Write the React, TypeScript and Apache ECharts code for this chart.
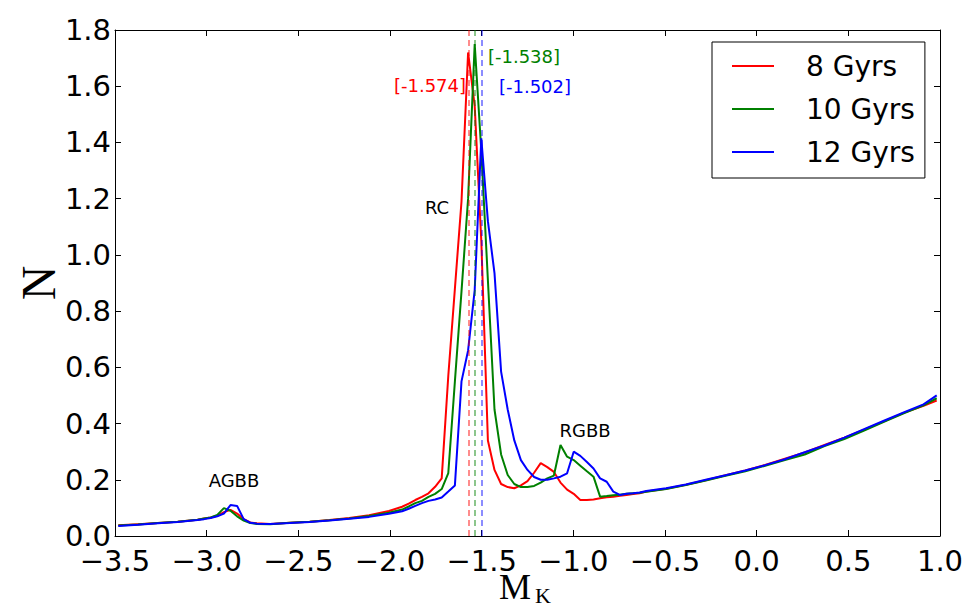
import React, { useEffect, useRef } from "react";
import * as echarts from "echarts";

// Bin centres (M_K) at which the three luminosity functions are sampled
const binCenters = [
  -3.482, -3.374, -3.266, -3.158, -3.05,
  -3.014, -2.978, -2.942, -2.906, -2.87, -2.834, -2.798, -2.762, -2.726,
  -2.654, -2.546, -2.438, -2.33, -2.222, -2.114, -2.006, -1.934, -1.898,
  -1.862, -1.826, -1.79, -1.754, -1.718, -1.682, -1.646, -1.61, -1.574, -1.538,
  -1.502, -1.466, -1.43, -1.394, -1.358, -1.322, -1.286, -1.25, -1.214, -1.178,
  -1.142, -1.106, -1.07, -1.034, -0.998, -0.962, -0.926, -0.89, -0.854, -0.818,
  -0.782, -0.746, -0.71, -0.674, -0.638, -0.602,
  -0.494, -0.386, -0.278, -0.17, -0.062, 0.046, 0.154, 0.262, 0.37, 0.478,
  0.586, 0.694, 0.802, 0.91, 0.982,
];

const gyr8 = [
  0.038, 0.042, 0.046, 0.051, 0.058,
  0.062, 0.066, 0.072, 0.085, 0.093, 0.08, 0.06, 0.048, 0.045,
  0.043, 0.047, 0.051, 0.057, 0.064, 0.074, 0.089, 0.104, 0.115,
  0.128, 0.139, 0.152, 0.175, 0.205, 0.57, 0.88, 1.19, 1.72, 1.53,
  1.05, 0.34, 0.235, 0.185, 0.174, 0.17, 0.18, 0.195, 0.225, 0.259,
  0.245, 0.228, 0.19, 0.165, 0.15, 0.128, 0.128, 0.13, 0.134, 0.138,
  0.14, 0.143, 0.146, 0.149, 0.152, 0.158,
  0.168, 0.182, 0.198, 0.216, 0.233, 0.253, 0.275, 0.297, 0.324, 0.35,
  0.378, 0.408, 0.438, 0.463, 0.482,
];

const gyr10 = [
  0.037, 0.041, 0.046, 0.051, 0.058,
  0.062, 0.066, 0.075, 0.099, 0.09, 0.07, 0.055, 0.046, 0.043,
  0.042, 0.047, 0.051, 0.056, 0.062, 0.071, 0.083, 0.094, 0.105,
  0.117, 0.125, 0.139, 0.15, 0.167, 0.224, 0.55, 0.87, 1.2, 1.75,
  1.37, 0.91, 0.45, 0.29, 0.217, 0.185, 0.174, 0.174, 0.178, 0.19,
  0.205, 0.215, 0.324, 0.282, 0.27, 0.25, 0.23, 0.211, 0.14, 0.142,
  0.145, 0.147, 0.15, 0.152, 0.154, 0.157,
  0.167, 0.181, 0.197, 0.214, 0.23, 0.25, 0.27, 0.29, 0.32, 0.345,
  0.375, 0.406, 0.436, 0.465, 0.49,
];

const gyr12 = [
  0.036, 0.04, 0.045, 0.05, 0.057,
  0.06, 0.064, 0.07, 0.08, 0.11, 0.107, 0.06, 0.047, 0.044,
  0.043, 0.046, 0.05, 0.055, 0.061, 0.068, 0.079, 0.088, 0.097,
  0.107, 0.117, 0.125, 0.13, 0.137, 0.158, 0.18, 0.55, 0.66, 0.875,
  1.415, 1.12, 0.935, 0.585, 0.45, 0.34, 0.27, 0.235, 0.21, 0.2,
  0.2, 0.205, 0.211, 0.223, 0.3, 0.285, 0.263, 0.24, 0.205, 0.193,
  0.158, 0.146, 0.15, 0.152, 0.155, 0.16,
  0.17, 0.183, 0.2, 0.216, 0.233, 0.252, 0.273, 0.298, 0.322, 0.35,
  0.38, 0.41, 0.44, 0.468, 0.5,
];

const seriesNames = ["8 Gyrs", "10 Gyrs", "12 Gyrs"];
const seriesValues = [gyr8, gyr10, gyr12];
const seriesColors = ["#ff0000", "#008000", "#0000ff"];
const peakPositions = [-1.574, -1.538, -1.502];

const xMin = -3.5;
const xMax = 1.0;
const xStep = 0.5;
const yMin = 0;
const yMax = 1.8;
const yStep = 0.2;

const fmt = (v: number) => v.toFixed(1).replace("-", "\u2212");

export default function App() {
  const ref = useRef<HTMLDivElement>(null);
  useEffect(() => {
    if (!ref.current) return;
    const chart = echarts.init(ref.current, null, { renderer: "svg" });
    const tickFont = { fontFamily: "DejaVu Sans", fontSize: 29, color: "#000" };
    const axisCommon = {
      axisLine: { show: true, onZero: false, lineStyle: { color: "#000", width: 1 } },
      axisTick: { show: true, inside: true, length: 6, lineStyle: { color: "#000" } },
      splitLine: { show: false },
    };
    const series: any[] = seriesNames.map((name, i) => ({
      name,
      type: "line",
      xAxisIndex: 0,
      yAxisIndex: 0,
      data: binCenters.map((x, j) => [x, seriesValues[i][j]]),
      symbol: "none",
      showSymbol: false,
      lineStyle: { color: seriesColors[i], width: 2 },
      itemStyle: { color: seriesColors[i] },
      z: 3,
      markLine: {
        silent: true,
        symbol: "none",
        label: { show: false },
        lineStyle: { color: seriesColors[i], type: [6, 4], width: 1.5, opacity: 0.6 },
        data: [{ xAxis: peakPositions[i] }],
      },
    }));
    const labelY = [85, 56, 86];
    const labelX = [430, 524, 535];
    chart.setOption({
      animation: false,
      backgroundColor: "#fff",
      grid: { left: 115, right: 33, top: 30, bottom: 72, containLabel: false },
      xAxis: [
        {
          type: "value", min: xMin, max: xMax, interval: xStep, position: "bottom",
          ...axisCommon,
          axisLabel: { ...tickFont, margin: 10, formatter: fmt },
        },
        {
          type: "value", min: xMin, max: xMax, interval: xStep, position: "top",
          ...axisCommon,
          axisLabel: { show: false },
        },
      ],
      yAxis: [
        {
          type: "value", min: yMin, max: yMax, interval: yStep, position: "left",
          ...axisCommon,
          axisLabel: { ...tickFont, margin: 4, formatter: fmt },
        },
        {
          type: "value", min: yMin, max: yMax, interval: yStep, position: "right",
          ...axisCommon,
          axisLabel: { show: false },
        },
      ],
      legend: {
        show: true,
        left: 712,
        top: 42,
        orient: "vertical",
        data: seriesNames.map((n) => ({ name: n, icon: "rect" })),
        itemWidth: 42,
        itemHeight: 2,
        itemGap: 15,
        padding: [10, 10, 12, 20],
        borderColor: "#000",
        borderWidth: 1,
        borderRadius: 0,
        backgroundColor: "#fff",
        textStyle: { fontFamily: "DejaVu Sans", fontSize: 28, color: "#000", padding: [0, 0, 0, 27] },
      },
      series,
      graphic: [
        ...peakPositions.map((p, i) => ({
          type: "text",
          x: labelX[i],
          y: labelY[i],
          z: 10,
          style: {
            text: `[${p}]`,
            fill: seriesColors[i],
            font: '18px "DejaVu Sans"',
            textAlign: "center",
            textVerticalAlign: "middle",
          },
        })),
        { type: "text", x: 437, y: 207, z: 10, style: { text: "RC", fill: "#000", font: '18px "DejaVu Sans"', textAlign: "center", textVerticalAlign: "middle" } },
        { type: "text", x: 585, y: 430, z: 10, style: { text: "RGBB", fill: "#000", font: '18px "DejaVu Sans"', textAlign: "center", textVerticalAlign: "middle" } },
        { type: "text", x: 234, y: 480, z: 10, style: { text: "AGBB", fill: "#000", font: '18px "DejaVu Sans"', textAlign: "center", textVerticalAlign: "middle" } },
        { type: "text", x: 38, y: 283, rotation: Math.PI / 2, z: 10, style: { text: "N", fill: "#000", font: '48px "Liberation Serif"', textAlign: "center", textVerticalAlign: "middle" } },
        { type: "text", x: 515, y: 587, z: 10, style: { text: "M", fill: "#000", font: '36px "Liberation Serif"', textAlign: "center", textVerticalAlign: "middle" } },
        { type: "text", x: 543, y: 595, z: 10, style: { text: "K", fill: "#000", font: '22px "Liberation Serif"', textAlign: "center", textVerticalAlign: "middle" } },
      ],
    });
    return () => chart.dispose();
  }, []);
  return (
    <div
      ref={ref}
      style={{ position: "fixed", left: 0, top: 0, width: 973, height: 608, background: "#fff" }}
    />
  );
}
